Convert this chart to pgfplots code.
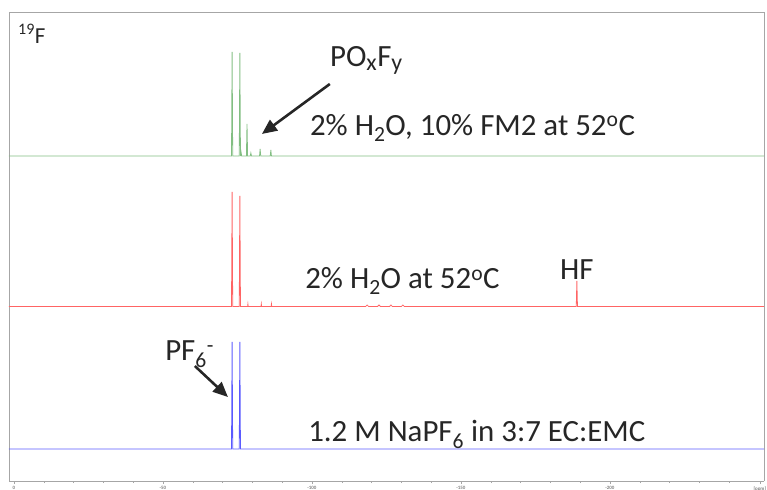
\documentclass[border=0pt]{standalone}
\usepackage{pgfplots}
\pgfplotsset{compat=1.18}
\usepackage{fontspec}
\setmainfont{Carlito}
\usetikzlibrary{arrows.meta}
\definecolor{gline}{RGB}{130,190,130}
\definecolor{rline}{RGB}{255,100,100}
\definecolor{bline}{RGB}{90,90,255}
\begin{document}
\begin{tikzpicture}
\begin{axis}[
  scale only axis, width=755bp, height=469bp,
  x dir=reverse, xmin=-251.7, xmax=1.68, ymin=0, ymax=469,
  axis line style={gray!70, line width=0.8pt},
  ytick=\empty,
  xtick={0,-50,-100,-150,-200,-250.3},
  xticklabels={0,-50,-100,-150,-200,[ppm]},
  minor xtick={-10,-20,-30,-40,-60,-70,-80,-90,-110,-120,-130,-140,-160,-170,-180,-190,-210,-220,-230,-240},
  tick align=outside, major tick length=3bp, minor tick length=2bp,
  xtick style={gray!70},
  x tick label style={font=\fontsize{5}{5}\selectfont\bfseries, text=gray, yshift=1bp},
  axis x line*=bottom, axis y line*=left,
  clip=false,
]
% frame top/right
\draw[gray!70, line width=0.8pt] (rel axis cs:0,1) -- (rel axis cs:1,1) -- (rel axis cs:1,0);
\coordinate (sw) at (rel axis cs:0,0);
% green spectrum
\addplot[gline, line width=0.8pt] coordinates {
(1.68,325) (-73.0,325) (-73.2,429) (-73.4,325) (-75.6,325) (-75.8,428) (-76.0,325)
(-76.2,329) (-76.4,325) (-78.0,325) (-78.2,357) (-78.4,325) (-79.3,325) (-79.5,328) (-79.7,325)
(-82.4,325) (-82.6,332) (-82.8,325) (-86.0,325) (-86.2,331) (-86.4,325) (-251.7,325)};
% red spectrum
\addplot[rline, line width=0.8pt] coordinates {
(1.68,174.5) (-73.0,174.5) (-73.2,289) (-73.4,174.5) (-75.6,174.5) (-75.8,285) (-76.0,174.5)
(-78.4,174.5) (-78.5,177) (-78.6,174.5) (-82.9,174.5) (-83.0,177) (-83.1,174.5)
(-86.3,174.5) (-86.4,177) (-86.5,174.5)
(-118,174.5) (-118.5,176) (-119,174.5) (-122,174.5) (-122.5,176) (-123,174.5) (-126,174.5) (-126.5,176) (-127,174.5) (-130,174.5) (-130.5,176) (-131,174.5)
(-188.7,174.5) (-188.9,200) (-189.1,174.5) (-251.7,174.5)};
% blue spectrum
\addplot[bline, line width=0.8pt] coordinates {
(1.68,32) (-73.0,32) (-73.2,139) (-73.4,32) (-75.6,32) (-75.8,139) (-76.0,32) (-251.7,32)};
% annotations
\node[anchor=base west, inner sep=0, text=black!85, font=\fontsize{23}{24}\selectfont] at (axis cs:-1.34,437) {\textsuperscript{19}F};
\node[anchor=base west, inner sep=0, text=black!85, font=\fontsize{31}{33}\selectfont] at (axis cs:-106.0,414) {PO\textsubscript{\fontsize{24}{24}\selectfont x}F\textsubscript{\fontsize{24}{24}\selectfont y}};
\draw[-{Triangle[length=15bp,width=13bp]}, line width=2.6pt, black!85] (axis cs:-106.0,397) -- (axis cs:-83.2,347);
\node[anchor=base west, inner sep=0, text=black!85, font=\fontsize{31}{33}\selectfont] at (axis cs:-99.3,345) {2\% H\textsubscript{2}O, 10\% FM2 at 52\textsuperscript{o}C};
\node[anchor=base west, inner sep=0, text=black!85, font=\fontsize{31}{33}\selectfont] at (axis cs:-97.7,192) {2\% H\textsubscript{2}O at 52\textsuperscript{o}C};
\node[anchor=base, inner sep=0, text=black!85, font=\fontsize{31}{33}\selectfont] at (axis cs:-188.9,201) {HF};
\node[anchor=base west, inner sep=0, text=black!85, font=\fontsize{31}{33}\selectfont] at (axis cs:-50.7,120) {PF\textsubscript{6}\textsuperscript{-}};
\draw[-{Triangle[length=15bp,width=13bp]}, line width=2.6pt, black!85] (axis cs:-60.7,115) -- (axis cs:-71.8,84);
\node[anchor=base west, inner sep=0, text=black!85, font=\fontsize{31}{33}\selectfont] at (axis cs:-98.7,39) {1.2 M NaPF\textsubscript{6} in 3:7 EC:EMC};
\end{axis}
\pgfresetboundingbox
\path[use as bounding box] ([shift={(-9bp,-9bp)}]sw) rectangle ([shift={(758bp,481bp)}]sw);
\end{tikzpicture}
\end{document}
